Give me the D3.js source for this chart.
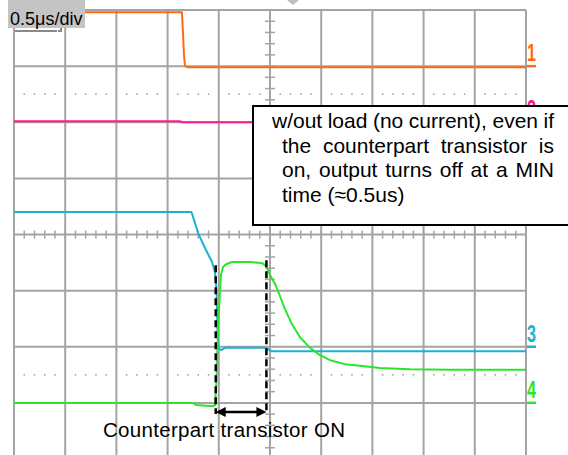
<!DOCTYPE html>
<html><head><meta charset="utf-8">
<script src="https://cdn.jsdelivr.net/npm/d3@7"></script>
<style>html,body{margin:0;padding:0;background:#fff;overflow:hidden}svg{display:block}</style>
</head><body>
<script>
// time in µs (0.5 µs/div, 0 = screen centre), level in screen divisions
const timeDivLabel = "0.5μs/div";
const ch1 = [[-2.5,3.96],[-0.86,3.96],[-0.85,3.6],[-0.84,3.2],[-0.83,3.0],[-0.80,2.98],[2.5,2.98]];
const ch2 = [[-2.5,2.02],[-0.88,2.02],[-0.86,2.0],[2.5,2.0]];
const ch3 = [[-2.5,0.40],[-0.767,0.40],[-0.742,0.26],[-0.703,0.03],[-0.635,-0.24],[-0.566,-0.49],[-0.537,-0.67],[-0.522,-0.99],[-0.513,-1.70],[-0.503,-2.02],[-0.479,-2.06],[-0.439,-2.02],[-0.049,-2.02],[0.02,-2.08],[2.5,-2.08]];
const ch4 = [[-2.5,-3.0],[-0.75,-3.0],[-0.72,-3.04],[-0.56,-3.06],[-0.537,-3.04],[-0.522,-2.59],[-0.508,-1.70],[-0.493,-1.17],[-0.479,-0.72],[-0.459,-0.58],[-0.43,-0.53],[-0.371,-0.49],[-0.195,-0.49],[-0.078,-0.51],[-0.039,-0.56],[0,-0.72],[0.049,-0.88],[0.098,-1.10],[0.146,-1.33],[0.215,-1.60],[0.293,-1.83],[0.391,-2.02],[0.488,-2.15],[0.586,-2.24],[0.732,-2.31],[0.879,-2.34],[1.074,-2.38],[1.367,-2.40],[1.758,-2.41],[2.5,-2.41]];
const channels = [
  {name:"1", data:ch1, ground:3,  color:"#ff6a10"},
  {name:"2", data:ch2, ground:2,  color:"#ff1a8c"},
  {name:"3", data:ch3, ground:-2, color:"#1ab2d2"},
  {name:"4", data:ch4, ground:-3, color:"#2ae62a"}
];
const noteLines = [
  ["w/out", "load", "(no", "current),", "even", "if"],
  ["the", "counterpart", "transistor", "is"],
  ["on,", "output", "turns", "off", "at", "a", "MIN"],
  ["time", "(≈0.5us)"]
];
const bottomLabel = "Counterpart transistor ON";
const markStart = -0.53, markEnd = -0.035; // µs, counterpart ON interval

const W = 568, H = 455;
const svg = d3.select("body").append("svg").attr("width", W).attr("height", H);
const x = d3.scaleLinear().domain([-2.5, 2.5]).range([14, 526]);
const y = d3.scaleLinear().domain([4, -4]).range([10, 459]);
const gridCol = "#a4a4a4";
const font = "Liberation Sans, Arial, sans-serif";

// grid
const g = svg.append("g");
g.selectAll(".vg").data(d3.range(-2.5, 2.51, 0.5)).join("line")
  .attr("x1", d => x(d)).attr("x2", d => x(d)).attr("y1", y(4)).attr("y2", y(-4))
  .attr("stroke", gridCol).attr("stroke-width", 2);
g.selectAll(".hg").data(d3.range(-4, 4.01, 1)).join("line")
  .attr("x1", x(-2.5)).attr("x2", x(2.5)).attr("y1", d => y(d)).attr("y2", d => y(d))
  .attr("stroke", gridCol).attr("stroke-width", 2);
// dotted lines at ±2.5 div
const dotT = d3.range(-2.4, 2.45, 0.1).filter(t => Math.abs(Math.round(t*2) - t*2) > 0.05);
[2.5, -2.5].forEach(v => {
  g.selectAll(null).data(dotT).join("rect")
    .attr("x", d => x(d) - 0.75).attr("y", y(v) - 0.75).attr("width", 1.5).attr("height", 1.5)
    .attr("fill", "#9a9a9a");
});
// minor ticks on centre axes
g.selectAll(".tx").data(d3.range(-2.5, 2.51, 0.1)).join("line")
  .attr("x1", d => x(d)).attr("x2", d => x(d)).attr("y1", y(0) - 4).attr("y2", y(0) + 4)
  .attr("stroke", gridCol).attr("stroke-width", 1.5);
g.selectAll(".ty").data(d3.range(-4, 4.01, 0.2)).join("line")
  .attr("x1", x(0) - 5).attr("x2", x(0) + 5).attr("y1", d => y(d)).attr("y2", d => y(d))
  .attr("stroke", gridCol).attr("stroke-width", 1.5);
// trigger marker at top
svg.append("path").attr("d", "M287,0 L299,0 L293,5 Z").attr("fill", "#bdbdbd");

// traces
const line = d3.line().x(d => x(d[0])).y(d => y(d[1]));
channels.forEach(c => {
  svg.append("path").attr("d", line(c.data)).attr("fill", "none")
    .attr("stroke", c.color).attr("stroke-width", 2).attr("stroke-linejoin", "round");
  svg.append("line").attr("x1", x(2.5) + 1).attr("x2", x(2.5) + 10)
    .attr("y1", y(c.ground)).attr("y2", y(c.ground)).attr("stroke", c.color).attr("stroke-width", 2.5);
  svg.append("text").attr("x", x(2.5) + 1).attr("y", y(c.ground) - 5)
    .attr("font-family", font).attr("font-size", 23).attr("font-weight", "bold")
    .attr("textLength", 9).attr("lengthAdjust", "spacingAndGlyphs")
    .attr("fill", c.color).text(c.name);
});

// time/div label
svg.append("rect").attr("x", 8).attr("y", 0).attr("width", 77).attr("height", 28).attr("fill", "#c4c4c4");
svg.append("text").attr("x", 10).attr("y", 25)
  .attr("font-family", font).attr("font-size", 18).text(timeDivLabel);
svg.append("path").attr("d", "M15,31 L57,31 M58,31 L61,31 L61,28").attr("stroke", "#8a8a8a")
  .attr("stroke-width", 2).attr("fill", "none");

// annotation box
svg.append("rect").attr("x", 253).attr("y", 106).attr("width", 330).attr("height", 119)
  .attr("fill", "#fff").attr("stroke", "#000").attr("stroke-width", 2);
const lineX = [272, 282, 282, 282], lineY = [128, 153, 177, 202], rightEdge = 554;
noteLines.forEach((words, i) => {
  const texts = words.map(w => svg.append("text").attr("y", lineY[i])
    .attr("font-family", font).attr("font-size", 21).text(w));
  const widths = texts.map(t => t.node().getComputedTextLength());
  const total = d3.sum(widths);
  const justify = i < noteLines.length - 1;
  const gap = justify ? (rightEdge - lineX[i] - total) / (words.length - 1) : 21 * 0.278;
  let cx = lineX[i];
  texts.forEach((t, k) => { t.attr("x", cx); cx += widths[k] + gap; });
});

// dashed markers
const dashY1 = [-0.55, -0.46];
[markStart, markEnd].forEach((t, i) => {
  svg.append("line").attr("x1", x(t)).attr("x2", x(t)).attr("y1", y(dashY1[i])).attr("y2", 414)
    .attr("stroke", "#000").attr("stroke-width", 2.5).attr("stroke-dasharray", "7,4");
});
// double arrow
const ay = 412, ax1 = x(markStart), ax2 = x(markEnd);
svg.append("line").attr("x1", ax1 + 6).attr("x2", ax2 - 6).attr("y1", ay).attr("y2", ay)
  .attr("stroke", "#000").attr("stroke-width", 2.5);
svg.append("path").attr("d", `M${ax1},${ay} L${ax1+10},${ay-5} L${ax1+10},${ay+5} Z M${ax2},${ay} L${ax2-10},${ay-5} L${ax2-10},${ay+5} Z`)
  .attr("fill", "#000");
svg.append("text").attr("x", 103).attr("y", 437)
  .attr("font-family", font).attr("font-size", 20.5)
  .attr("textLength", 242).attr("lengthAdjust", "spacing").text(bottomLabel);
</script>
</body></html>
